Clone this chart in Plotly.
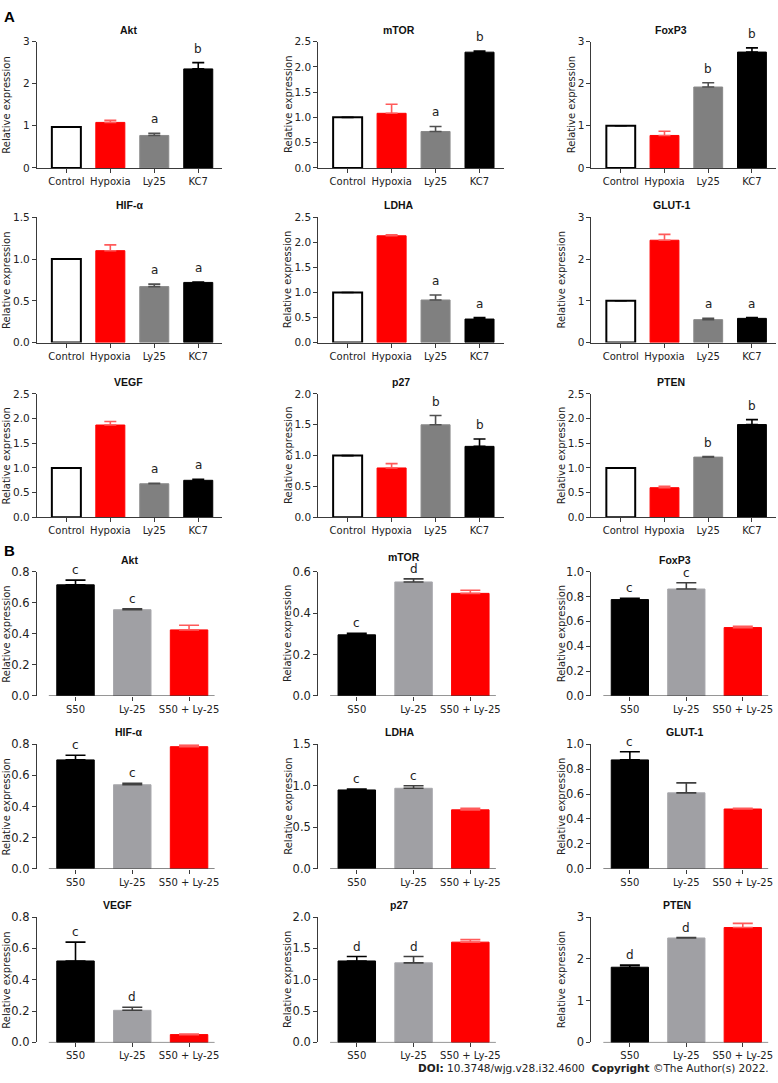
import plotly.graph_objects as go

W, H = 778, 1083

GROUPS_A = ["Control", "Hypoxia", "Ly25", "KC7"]
GROUPS_B = ["S50", "Ly-25", "S50 + Ly-25"]
GENES = ["Akt", "mTOR", "FoxP3", "HIF-α", "LDHA", "GLUT-1", "VEGF", "p27", "PTEN"]

# ---------------- Panel A (mean, upper error, significance letter)
A_AKT = [0.97, 1.08, 0.77, 2.35]
A_AKT_ERR = [0.0, 0.05, 0.05, 0.15]
A_AKT_SIG = ["", "", "a", "b"]
A_MTOR = [1.0, 1.08, 0.72, 2.29]
A_MTOR_ERR = [0.0, 0.18, 0.10, 0.02]
A_MTOR_SIG = ["", "", "a", "b"]
A_FOXP3 = [1.0, 0.77, 1.92, 2.75]
A_FOXP3_ERR = [0.0, 0.10, 0.10, 0.10]
A_FOXP3_SIG = ["", "", "b", "b"]
A_HIF = [1.0, 1.10, 0.67, 0.72]
A_HIF_ERR = [0.0, 0.07, 0.03, 0.005]
A_HIF_SIG = ["", "", "a", "a"]
A_LDHA = [1.0, 2.13, 0.85, 0.47]
A_LDHA_ERR = [0.0, 0.02, 0.10, 0.03]
A_LDHA_SIG = ["", "", "a", "a"]
A_GLUT1 = [1.0, 2.45, 0.55, 0.58]
A_GLUT1_ERR = [0.0, 0.14, 0.03, 0.02]
A_GLUT1_SIG = ["", "", "a", "a"]
A_VEGF = [1.0, 1.87, 0.68, 0.75]
A_VEGF_ERR = [0.0, 0.07, 0.01, 0.02]
A_VEGF_SIG = ["", "", "a", "a"]
A_P27 = [1.0, 0.80, 1.50, 1.15]
A_P27_ERR = [0.0, 0.07, 0.15, 0.12]
A_P27_SIG = ["", "", "b", "b"]
A_PTEN = [1.0, 0.60, 1.22, 1.88]
A_PTEN_ERR = [0.0, 0.03, 0.01, 0.10]
A_PTEN_SIG = ["", "", "b", "b"]

A_YMAX = [3, 2.5, 3, 1.5, 2.5, 3, 2.5, 2.0, 2.5]
A_DTICK = [1, 0.5, 1, 0.5, 0.5, 1, 0.5, 0.5, 0.5]

# ---------------- Panel B
B_AKT = [0.715, 0.555, 0.425]
B_AKT_ERR = [0.03, 0.005, 0.03]
B_AKT_SIG = ["c", "c", ""]
B_MTOR = [0.295, 0.55, 0.495]
B_MTOR_ERR = [0.007, 0.015, 0.015]
B_MTOR_SIG = ["c", "d", ""]
B_FOXP3 = [0.775, 0.86, 0.55]
B_FOXP3_ERR = [0.01, 0.05, 0.01]
B_FOXP3_SIG = ["c", "c", ""]
B_HIF = [0.70, 0.54, 0.785]
B_HIF_ERR = [0.03, 0.01, 0.01]
B_HIF_SIG = ["c", "c", ""]
B_LDHA = [0.95, 0.97, 0.71]
B_LDHA_ERR = [0.01, 0.03, 0.02]
B_LDHA_SIG = ["c", "c", ""]
B_GLUT1 = [0.875, 0.61, 0.48]
B_GLUT1_ERR = [0.065, 0.08, 0.005]
B_GLUT1_SIG = ["c", "", ""]
B_VEGF = [0.52, 0.205, 0.05]
B_VEGF_ERR = [0.12, 0.02, 0.003]
B_VEGF_SIG = ["c", "d", ""]
B_P27 = [1.30, 1.27, 1.60]
B_P27_ERR = [0.07, 0.10, 0.04]
B_P27_SIG = ["d", "d", ""]
B_PTEN = [1.80, 2.50, 2.75]
B_PTEN_ERR = [0.05, 0.01, 0.10]
B_PTEN_SIG = ["d", "d", ""]

B_YMAX = [0.8, 0.6, 1.0, 0.8, 1.5, 1.0, 0.8, 2.0, 3]
B_DTICK = [0.2, 0.2, 0.2, 0.2, 0.5, 0.2, 0.2, 0.5, 1]

A_VALS = [A_AKT, A_MTOR, A_FOXP3, A_HIF, A_LDHA, A_GLUT1, A_VEGF, A_P27, A_PTEN]
A_ERRS = [A_AKT_ERR, A_MTOR_ERR, A_FOXP3_ERR, A_HIF_ERR, A_LDHA_ERR, A_GLUT1_ERR, A_VEGF_ERR, A_P27_ERR, A_PTEN_ERR]
A_SIGS = [A_AKT_SIG, A_MTOR_SIG, A_FOXP3_SIG, A_HIF_SIG, A_LDHA_SIG, A_GLUT1_SIG, A_VEGF_SIG, A_P27_SIG, A_PTEN_SIG]
B_VALS = [B_AKT, B_MTOR, B_FOXP3, B_HIF, B_LDHA, B_GLUT1, B_VEGF, B_P27, B_PTEN]
B_ERRS = [B_AKT_ERR, B_MTOR_ERR, B_FOXP3_ERR, B_HIF_ERR, B_LDHA_ERR, B_GLUT1_ERR, B_VEGF_ERR, B_P27_ERR, B_PTEN_ERR]
B_SIGS = [B_AKT_SIG, B_MTOR_SIG, B_FOXP3_SIG, B_HIF_SIG, B_LDHA_SIG, B_GLUT1_SIG, B_VEGF_SIG, B_P27_SIG, B_PTEN_SIG]

# ---------------- styling
FONT = "DejaVu Sans"
TFONT = "Liberation Sans"
AX = "#3a3a3a"
A_FILL = ["#ffffff", "#ff0000", "#808080", "#000000"]
A_LINE = ["#000000", "#ff0000", "#8a8a8a", "#000000"]
A_ECOL = ["#000000", "#ff5a5a", "#505050", "#000000"]
B_FILL = ["#000000", "#a0a0a4", "#ff0000"]
B_LINE = ["#000000", "#a8a8ac", "#ff0000"]
B_ECOL = ["#000000", "#404040", "#ff5a5a"]

A_COLS = [(37, 223), (319, 505), (593, 778)]
B_COLS = [(37, 218), (319, 500), (593, 773)]
A_ROWS = [(35, 163), (213, 340), (392, 517)]
B_ROWS = [(572, 698), (747, 873), (922, 1049)]
A_TITLE_X = [129, 400, 673, 130, 400, 673, 129, 402, 673]
B_TITLE_X = [130, 405, 677, 129, 401, 686, 118, 400, 679]
A_TITLE_DY = [12, 12, 12, 12, 12, 12, 12, 12, 12]
B_TITLE_DY = [12, 15, 12, 12, 12, 12, 12, 12, 12]
A_YT_DX = [-30, -30, -20, -30, -30, -30, -30, -30, -30]
B_YT_DX = [-30, -30, -30, -30, -30, -30, -30, -30, -30]

fig = go.Figure()
annotations = []
shapes = []
layout = {}


def fx(p):
    return p / W


def fy(p):
    return 1 - p / H


def add_panel(idx, title, groups, vals, errs, sigs, fills, lines, ecols,
              ymax, dtick, xpx, ypx, title_x, title_dy, yt_dx, xr, ewidth, sig_shift,
              offset_xline, ytick_size):
    xa, ya = f"x{idx}", f"y{idx}"
    for g, v, e, fc, lc, ec in zip(groups, vals, errs, fills, lines, ecols):
        fig.add_trace(go.Bar(
            x=[g], y=[v], width=0.66, xaxis=xa, yaxis=ya, showlegend=False,
            marker=dict(color=fc, line=dict(color=lc, width=2 if fc == "#ffffff" else 1)),
            error_y=dict(type="data", array=[e], arrayminus=[0], symmetric=False,
                         color=ec, thickness=1.6, width=ewidth),
        ))
    for g, v, e, s in zip(groups, vals, errs, sigs):
        if s:
            annotations.append(dict(x=g, y=v + e, xref=xa, yref=ya, text=s,
                                    showarrow=False, yanchor="bottom", yshift=sig_shift,
                                    font=dict(family=FONT, size=12, color="#222")))
    fmt = ".0f" if dtick >= 1 else ".1f"
    layout["xaxis" if idx == 1 else f"xaxis{idx}"] = dict(
        domain=[fx(xpx[0]), fx(xpx[1])], anchor=ya, range=xr,
        categoryorder="array", categoryarray=groups,
        showline=not offset_xline, linecolor=AX, linewidth=1,
        ticks="outside", ticklen=4, tickcolor=AX, tickwidth=1,
        showgrid=False, zeroline=False, fixedrange=True,
        tickfont=dict(family=FONT, size=10, color="#222"),
    )
    layout["yaxis" if idx == 1 else f"yaxis{idx}"] = dict(
        domain=[fy(ypx[1]), fy(ypx[0])], anchor=xa, range=[0, ymax],
        tick0=0, dtick=dtick, tickformat=fmt,
        showline=True, linecolor=AX, linewidth=1,
        ticks="outside", ticklen=4, tickcolor=AX, tickwidth=1,
        showgrid=False, zeroline=False, fixedrange=True,
        tickfont=dict(family=FONT, size=ytick_size, color="#222"),
    )
    if offset_xline:
        shapes.append(dict(type="line", xref=xa, yref=ya, x0=-0.47, x1=len(groups) - 0.55,
                           y0=0, y1=0, line=dict(color=AX, width=1)))
    annotations.append(dict(x=fx(title_x), y=fy(ypx[0] - title_dy), xref="paper", yref="paper",
                            text=f"<b>{title}</b>", showarrow=False,
                            xanchor="center", yanchor="middle",
                            font=dict(family=TFONT, size=10.5, color="#111")))
    annotations.append(dict(x=fx(xpx[0] + yt_dx), y=fy((ypx[0] + ypx[1]) / 2),
                            xref="paper", yref="paper", text="Relative expression",
                            textangle=-90, showarrow=False, xanchor="center", yanchor="middle",
                            font=dict(family=FONT, size=10, color="#222")))


for k in range(9):
    r, c = divmod(k, 3)
    add_panel(k + 1, GENES[k], GROUPS_A, A_VALS[k], A_ERRS[k], A_SIGS[k],
              A_FILL, A_LINE, A_ECOL, A_YMAX[k], A_DTICK[k], A_COLS[c], A_ROWS[r],
              A_TITLE_X[k], A_TITLE_DY[k], A_YT_DX[k], [-0.67, 3.55], 6, 5, False, 10.5)
for k in range(9):
    r, c = divmod(k, 3)
    add_panel(k + 10, GENES[k], GROUPS_B, B_VALS[k], B_ERRS[k], B_SIGS[k],
              B_FILL, B_LINE, B_ECOL, B_YMAX[k], B_DTICK[k], B_COLS[c], B_ROWS[r],
              B_TITLE_X[k], B_TITLE_DY[k], B_YT_DX[k], [-0.68, 2.5], 10, 1, True, 11.5)

annotations.append(dict(x=fx(2), y=fy(10), xref="paper", yref="paper", text="<b>A</b>",
                        showarrow=False, xanchor="left", yanchor="middle",
                        font=dict(family=TFONT, size=15, color="#000")))
annotations.append(dict(x=fx(2), y=fy(551), xref="paper", yref="paper", text="<b>B</b>",
                        showarrow=False, xanchor="left", yanchor="middle",
                        font=dict(family=TFONT, size=15, color="#000")))
annotations.append(dict(x=fx(773), y=fy(1075), xref="paper", yref="paper",
                        text="<b>DOI:</b> 10.3748/wjg.v28.i32.4600  <b>Copyright</b> ©The Author(s) 2022.",
                        showarrow=False, xanchor="right", yanchor="middle",
                        font=dict(family=FONT, size=10.5, color="#222")))

fig.update_layout(
    width=W, height=H, margin=dict(l=0, r=0, t=0, b=0),
    paper_bgcolor="white", plot_bgcolor="white", barmode="overlay",
    annotations=annotations, shapes=shapes, showlegend=False,
    **layout,
)

fig.write_html("out.html", config={"displayModeBar": False},
               post_script="document.body.style.margin='0px';")
